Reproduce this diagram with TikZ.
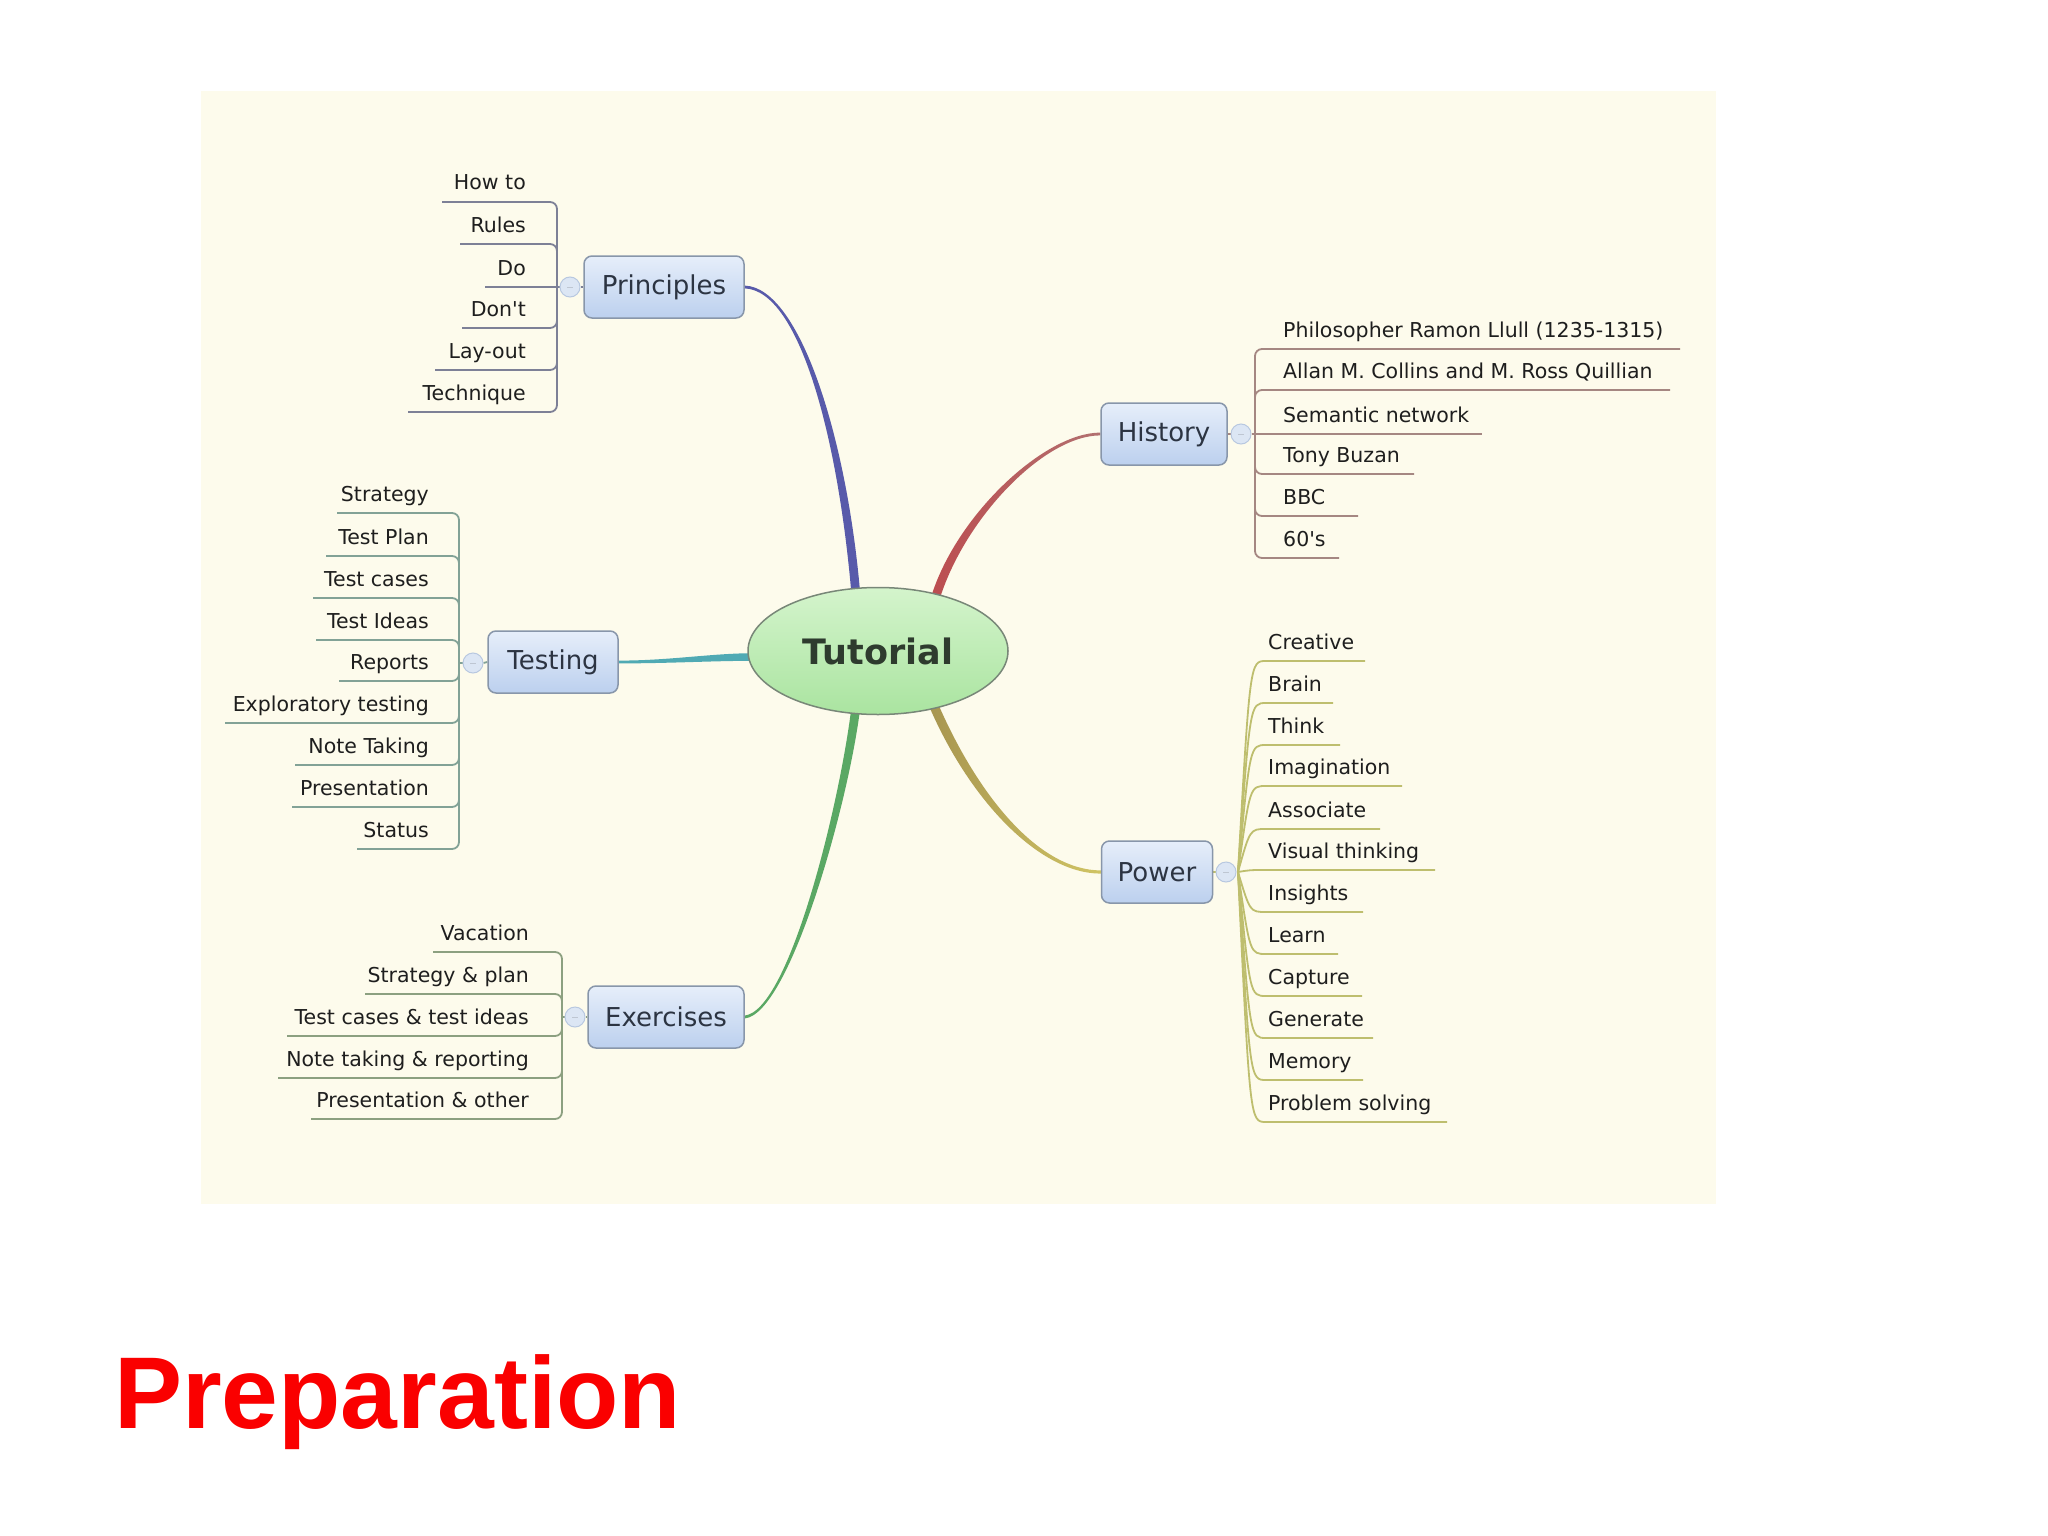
\documentclass[tikz,border=0pt]{standalone}
\usepackage{fontspec}
\usetikzlibrary{calc,shapes.geometric}
\newfontfamily\mmfont{DejaVu Sans}
\newfontfamily\titlefont{Liberation Sans}
\definecolor{panelc}{RGB}{253,251,236}
\definecolor{princ}{RGB}{88,90,170}
\definecolor{testc}{RGB}{80,170,180}
\definecolor{exerc}{RGB}{90,168,100}
\definecolor{histc}{RGB}{188,78,80}
\definecolor{histc2}{RGB}{178,112,112}
\definecolor{powc}{RGB}{168,150,80}
\definecolor{powc2}{RGB}{208,196,100}
\definecolor{prinl}{RGB}{125,128,150}
\definecolor{histl}{RGB}{165,135,130}
\definecolor{testl}{RGB}{130,162,150}
\definecolor{exerl}{RGB}{140,160,128}
\definecolor{powl}{RGB}{190,190,110}
\definecolor{leaftext}{RGB}{30,30,30}
\definecolor{boxtext}{RGB}{44,52,66}
\definecolor{boxtop}{RGB}{230,238,250}
\definecolor{boxbot}{RGB}{188,208,238}
\definecolor{boxdraw}{RGB}{136,150,170}
\definecolor{tuttop}{RGB}{212,244,204}
\definecolor{tutbot}{RGB}{170,228,160}
\definecolor{tutdraw}{RGB}{120,135,120}
\definecolor{tuttext}{RGB}{46,59,46}
\definecolor{knobfill}{RGB}{220,230,244}
\definecolor{knobdraw}{RGB}{184,200,224}
\definecolor{titlered}{RGB}{250,0,0}
\pgfdeclarelayer{back}
\pgfdeclarelayer{bg}
\pgfsetlayers{back,bg,main}
\tikzset{
  leaf/.style={font=\mmfont\fontsize{20.5bp}{24bp}\selectfont, text=leaftext, inner sep=0pt},
  topic/.style={draw=boxdraw, line width=1.5bp, rounded corners=8bp, top color=boxtop, bottom color=boxbot,
     font=\mmfont\fontsize{26bp}{30bp}\selectfont, text=boxtext, minimum height=62bp, inner sep=0pt},
  tutnode/.style={ellipse, draw=tutdraw, line width=1.5bp, top color=tuttop, bottom color=tutbot,
     minimum width=260bp, minimum height=127bp, inner sep=0pt,
     font=\mmfont\bfseries\fontsize{35bp}{40bp}\selectfont, text=tuttext},
  knob/.style={circle, draw=knobdraw, fill=knobfill, line width=1bp, minimum size=20bp, inner sep=0pt},
  lprin/.style={draw=prinl, line width=1.8bp, rounded corners=7bp},
  lhist/.style={draw=histl, line width=1.8bp, rounded corners=7bp},
  ltest/.style={draw=testl, line width=1.8bp, rounded corners=7bp},
  lexer/.style={draw=exerl, line width=1.8bp, rounded corners=7bp},
  lpow/.style={draw=powl, line width=1.8bp},
}
% tapered branch: style, P0, P1, P2, P3, half width start, half width end
\newcommand\branchcurve[7]{%
  \path[#1] ($#2!#6!90:#3$) .. controls ($#3!#6!-90:#2$) and ($#4!#7!90:#5$) .. ($#5!#7!-90:#4$)
    -- ($#5!#7!90:#4$) .. controls ($#4!#7!-90:#5$) and ($#3!#6!90:#2$) .. ($#2!#6!-90:#3$) -- cycle;}
% left leaf with bracket
\newcommand\lfL[7]{%
  \node[leaf,anchor=base east] (#1) at (#5,#3-12) {#2};
  \coordinate (#1u) at (#4,#3);
  \begin{pgfonlayer}{bg}\draw[#7] (#6) |- (#1u);\end{pgfonlayer}}
\newcommand\lfLs[7]{%
  \node[leaf,anchor=base east] (#1) at (#5,#3-12) {#2};
  \coordinate (#1u) at (#4,#3);
  \begin{pgfonlayer}{bg}\draw[#7] (#6) -- (#1u);\end{pgfonlayer}}
\newcommand\lfR[7]{%
  \node[leaf,anchor=base west] (#1) at (#5,#3-12) {#2};
  \coordinate (#1u) at (#4,#3);
  \begin{pgfonlayer}{bg}\draw[#7] (#6) |- (#1u);\end{pgfonlayer}}
\newcommand\lfRs[7]{%
  \node[leaf,anchor=base west] (#1) at (#5,#3-12) {#2};
  \coordinate (#1u) at (#4,#3);
  \begin{pgfonlayer}{bg}\draw[#7] (#6) -- (#1u);\end{pgfonlayer}}
\newcommand\lfP[4]{%
  \node[leaf,anchor=base west] (#1) at (1268,#3-12) {#2};
  \coordinate (#1u) at (#4,#3);
  \coordinate (#1c) at (1250,#3);
  \coordinate (#1s) at (1266,#3);
  \begin{pgfonlayer}{bg}\draw[lpow] (powJ) .. controls (#1c) .. (#1s) -- (#1u);\end{pgfonlayer}}
\newcommand\knobmark[1]{\draw[knobdraw!80!black!60, line width=1bp] ($(#1.center)+(-3,0)$) -- ($(#1.center)+(3,0)$);}

\begin{document}
\begin{tikzpicture}[x=1bp,y=-1bp]
\useasboundingbox (0,0) rectangle (2048,1536);
\begin{pgfonlayer}{back}
  \fill[white] (0,0) rectangle (2048,1536);
  \fill[panelc] (201,91) rectangle (1716,1204);
\end{pgfonlayer}

% central topic and main topics
\node[tutnode] (tut) at (878,651) {Tutorial};
\node[topic, minimum width=160bp] (prin) at (664,287) {Principles};
\node[topic, minimum width=126bp] (hist) at (1164,434) {History};
\node[topic, minimum width=130bp] (test) at (553,662) {Testing};
\node[topic, minimum width=156bp] (exer) at (666,1017) {Exercises};
\node[topic, minimum width=111bp] (pow) at (1157,872) {Power};

% collapse knobs
\node[knob] (prinK) at (570,287) {};
\node[knob] (histK) at (1241,434) {};
\node[knob] (testK) at (473,663) {};
\node[knob] (exerK) at (575,1017) {};
\node[knob] (powK) at (1226,872) {};
\knobmark{prinK}\knobmark{histK}\knobmark{testK}\knobmark{exerK}\knobmark{powK}

% junctions
\coordinate (prinJ) at (557,287);
\coordinate (histJ) at (1255,434);
\coordinate (testJ) at (459,663);
\coordinate (exerJ) at (562,1017);
\coordinate (powJ) at (1238,872);

\begin{pgfonlayer}{bg}
  \draw[lprin] (prin.west) -- (prinK.east);
  \draw[lprin] (prinK.west) -- (prinJ);
  \draw[lhist] (hist.east) -- (histK.west);
  \draw[lhist] (histK.east) -- (histJ);
  \draw[ltest] (test.west) -- (testK.east);
  \draw[ltest] (testK.west) -- (testJ);
  \draw[lexer] (exer.west) -- (exerK.east);
  \draw[lexer] (exerK.west) -- (exerJ);
  \draw[lpow] (pow.east) -- (powK.west);
  \draw[lpow] (powK.east) -- (powJ);
\end{pgfonlayer}

% main branches (tapered)
\coordinate (pe) at (856,596);
\coordinate (pc1) at (800,289);
\coordinate (pc2) at (843,440);
\coordinate (he) at (936,596);
\coordinate (hc1) at (1045,434);
\coordinate (hc2) at (962,515);
\coordinate (te) at (754,657);
\coordinate (tc1) at (670,662);
\coordinate (tc2) at (712,657);
\coordinate (ee) at (856,706);
\coordinate (ec1) at (790,1012);
\coordinate (ec2) at (845,800);
\coordinate (we) at (934,706);
\coordinate (wc1) at (1040,872);
\coordinate (wc2) at (975,800);
\begin{pgfonlayer}{bg}
  \branchcurve{fill=princ}{(prin.east)}{(pc1)}{(pc2)}{(pe)}{1.4bp}{4.4bp}
  \branchcurve{left color=histc, right color=histc2}{(hist.west)}{(hc1)}{(hc2)}{(he)}{1.4bp}{4.4bp}
  \branchcurve{fill=testc}{(test.east)}{(tc1)}{(tc2)}{(te)}{1.4bp}{3.8bp}
  \branchcurve{fill=exerc}{(exer.east)}{(ec1)}{(ec2)}{(ee)}{1.4bp}{4.4bp}
  \branchcurve{left color=powc, right color=powc2}{(pow.west)}{(wc1)}{(wc2)}{(we)}{1.6bp}{4.6bp}
\end{pgfonlayer}

% Principles leaves
\lfL{p1}{How to}{202}{442}{526}{prinJ}{lprin}
\lfL{p2}{Rules}{244}{460}{526}{prinJ}{lprin}
\lfLs{p3}{Do}{287}{485}{526}{prinJ}{lprin}
\lfL{p4}{Don\textquotesingle t}{328}{462}{526}{prinJ}{lprin}
\lfL{p5}{Lay-out}{370}{435}{526}{prinJ}{lprin}
\lfL{p6}{Technique}{412}{408}{526}{prinJ}{lprin}

% Testing leaves
\lfL{t1}{Strategy}{513}{337}{429}{testJ}{ltest}
\lfL{t2}{Test Plan}{556}{326}{429}{testJ}{ltest}
\lfL{t3}{Test cases}{598}{313}{429}{testJ}{ltest}
\lfL{t4}{Test Ideas}{640}{316}{429}{testJ}{ltest}
\lfL{t5}{Reports}{681}{339}{429}{testJ}{ltest}
\lfL{t6}{Exploratory testing}{723}{225}{429}{testJ}{ltest}
\lfL{t7}{Note Taking}{765}{295}{429}{testJ}{ltest}
\lfL{t8}{Presentation}{807}{292}{429}{testJ}{ltest}
\lfL{t9}{Status}{849}{357}{429}{testJ}{ltest}

% Exercises leaves
\lfL{e1}{Vacation}{952}{433}{529}{exerJ}{lexer}
\lfL{e2}{Strategy \& plan}{994}{365}{529}{exerJ}{lexer}
\lfL{e3}{Test cases \& test ideas}{1036}{287}{529}{exerJ}{lexer}
\lfL{e4}{Note taking \& reporting}{1078}{278}{529}{exerJ}{lexer}
\lfL{e5}{Presentation \& other}{1119}{311}{529}{exerJ}{lexer}

% History leaves
\lfR{h1}{Philosopher Ramon Llull (1235-1315)}{349}{1680}{1283}{histJ}{lhist}
\lfR{h2}{Allan M. Collins and M. Ross Quillian}{390}{1670}{1283}{histJ}{lhist}
\lfRs{h3}{Semantic network}{434}{1482}{1283}{histJ}{lhist}
\lfR{h4}{Tony Buzan}{474}{1414}{1283}{histJ}{lhist}
\lfR{h5}{BBC}{516}{1358}{1283}{histJ}{lhist}
\lfR{h6}{60\textquotesingle s}{558}{1339}{1283}{histJ}{lhist}

% Power leaves
\lfP{w1}{Creative}{661}{1365}
\lfP{w2}{Brain}{703}{1333}
\lfP{w3}{Think}{745}{1340}
\lfP{w4}{Imagination}{786}{1402}
\lfP{w5}{Associate}{829}{1380}
\lfP{w6}{Visual thinking}{870}{1435}
\lfP{w7}{Insights}{912}{1363}
\lfP{w8}{Learn}{954}{1338}
\lfP{w9}{Capture}{996}{1362}
\lfP{w10}{Generate}{1038}{1373}
\lfP{w11}{Memory}{1080}{1363}
\lfP{w12}{Problem solving}{1122}{1447}

% title
\node[anchor=base west, inner sep=0pt, text=titlered,
      font=\titlefont\bfseries\fontsize{102bp}{110bp}\selectfont] (title) at (114,1428) {Preparation};
\end{tikzpicture}
\end{document}
